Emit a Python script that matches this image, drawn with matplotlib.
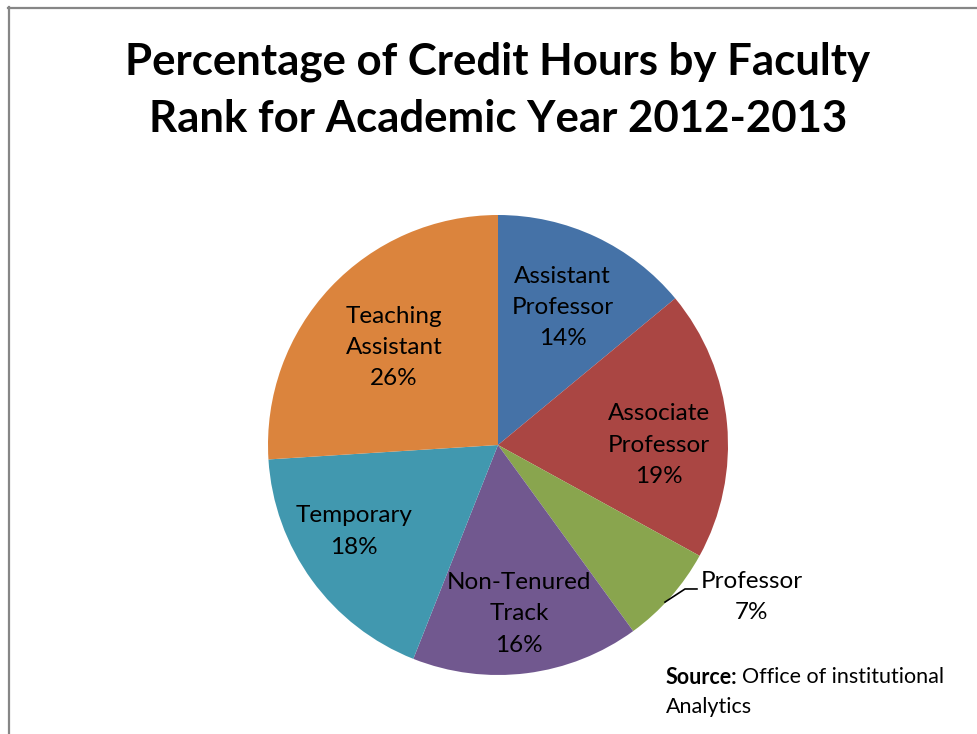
import numpy as np
import matplotlib
matplotlib.use("Agg")
import matplotlib.pyplot as plt
from matplotlib.lines import Line2D

plt.rcParams['font.family'] = ['Lato', 'DejaVu Sans']

# credit hour share by faculty rank, clockwise from 12 o'clock
ranks = ["Assistant\nProfessor", "Associate\nProfessor", "Professor",
         "Non-Tenured\nTrack", "Temporary", "Teaching\nAssistant"]
shares = [14, 19, 7, 16, 18, 26]
colors = ["#4572A7", "#AA4643", "#89A54E", "#71588F", "#4198AF", "#DB843D"]
# label placement: radial distance and angular nudge (deg) from slice middle
label_dist = [0.66, 0.70, 1.29, 0.74, 0.73, 0.62]
label_nudge = [0, -5.4, 0, 0, -5, 0]

W, H = 977, 734
fig = plt.figure(figsize=(W / 100, H / 100), dpi=100)

# pie: centre (498, 445) px, radius 230 px
cx, cy, R = 498, 445, 230
ax = fig.add_axes([(cx - R) / W, (H - cy - R) / H, 2 * R / W, 2 * R / H])
wedges, _ = ax.pie(shares, colors=colors, startangle=90, counterclock=False,
                   radius=1.0, wedgeprops=dict(linewidth=0))
ax.set_xlim(-1, 1)
ax.set_ylim(-1, 1)
ax.set_aspect('equal')
ax.axis('off')

lbl_kw = dict(ha='center', va='center', fontsize=17.5, linespacing=1.6,
              clip_on=False)

total = sum(shares)
start = 90.0
for name, val, d, nudge in zip(ranks, shares, label_dist, label_nudge):
    span = 360.0 * val / total
    mid = np.deg2rad(start - span / 2 + nudge)
    start -= span
    txt = f"{name}\n{round(100 * val / total)}%"
    if name == "Professor":
        # small slice: label sits outside with a leader line
        ax.text(1.104, -0.661, txt, **lbl_kw)
        ax.plot([0.726, 0.813, 0.865], [-0.683, -0.626, -0.626],
                color='black', lw=1.2, clip_on=False)
        continue
    ax.text(d * np.cos(mid), d * np.sin(mid), txt, **lbl_kw)

fig.text(498 / W, 1 - 90 / H,
         "Percentage of Credit Hours by Faculty\nRank for Academic Year 2012-2013",
         ha='center', va='center', fontsize=31.5, fontweight='bold',
         linespacing=1.5)

# source note: bold lead-in followed by plain text
src = fig.text(666 / W, 1 - 677 / H, "Source:", ha='left', va='center',
               fontsize=15.5, fontweight='bold')
ax.annotate("Office of institutional", xy=(1, 0.5), xycoords=src,
            xytext=(3.5, 0), textcoords='offset points', ha='left',
            va='center', fontsize=15.5, annotation_clip=False)
fig.text(666 / W, 1 - 707 / H, "Analytics", ha='left', va='center',
         fontsize=15.5)

# chart area border (clipped at right and bottom)
border = "#868686"
fig.add_artist(Line2D([8.5 / W, 8.5 / W], [1 - 7 / H, 0], color=border,
                      lw=1.6, transform=fig.transFigure))
fig.add_artist(Line2D([8 / W, 1], [1 - 7.5 / H, 1 - 7.5 / H], color=border,
                      lw=1.6, transform=fig.transFigure))

fig.savefig("out.png", dpi=100)
